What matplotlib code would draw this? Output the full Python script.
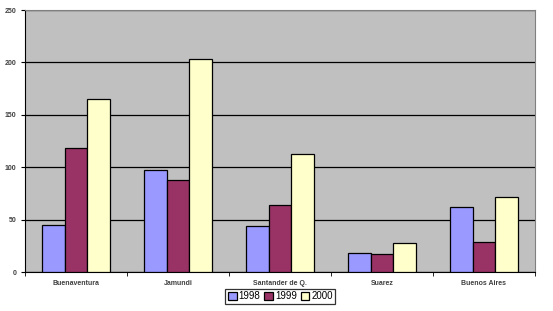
import matplotlib.pyplot as plt
import numpy as np

plt.rcParams["font.family"] = ["Liberation Sans", "DejaVu Sans"]

places = ["Buenaventura", "Jamundi", "Santander de Q.", "Suarez", "Buenos Aires"]
years = ["1998", "1999", "2000"]
v1998 = [45, 97, 44, 18, 62]
v1999 = [118, 88, 64, 17, 29]
v2000 = [165, 203, 113, 28, 72]
colors = ["#9999FF", "#993366", "#FFFFCC"]

fig = plt.figure(figsize=(5.53, 3.11), dpi=100)
ax = fig.add_axes([0.0452, 0.1254, 0.9222, 0.8424])
ax.set_facecolor("#C0C0C0")

x = np.arange(len(places))
w = 0.22
for i, (vals, lab) in enumerate(zip([v1998, v1999, v2000], years)):
    ax.bar(x + (i - 1) * w, vals, w, color=colors[i], edgecolor="black",
           linewidth=0.9, label=lab, zorder=3)

ax.set_xlim(-0.5, len(places) - 0.5)
ax.set_ylim(0, 250)
ax.set_yticks(range(0, 251, 50))
ax.yaxis.grid(True, color="black", linewidth=0.9, zorder=1)
ax.set_axisbelow(True)

ax.set_xticks(x)
ax.set_xticklabels(places)
ax.set_xticks(np.arange(-0.5, len(places)), minor=True)
ax.tick_params(axis="x", which="major", length=0, pad=6)
ax.tick_params(axis="x", which="minor", length=3, direction="out")
ax.tick_params(axis="y", length=3, direction="out", pad=3)
for lbl in ax.get_xticklabels() + ax.get_yticklabels():
    lbl.set_fontsize(5)
    lbl.set_fontweight("bold")
    lbl.set_color("#404040")

for s in ["top", "right"]:
    ax.spines[s].set_color("#808080")
for s in ["left", "bottom"]:
    ax.spines[s].set_color("black")

leg = fig.legend(loc="center", bbox_to_anchor=(0.507, 0.0475), ncol=3,
                 fontsize=7, frameon=True, fancybox=False, handlelength=0.9,
                 handleheight=0.9, handletextpad=0.2, columnspacing=0.4,
                 borderpad=0.25, edgecolor="black")
leg.get_frame().set_linewidth(0.9)

fig.savefig("out.png", dpi=100)
